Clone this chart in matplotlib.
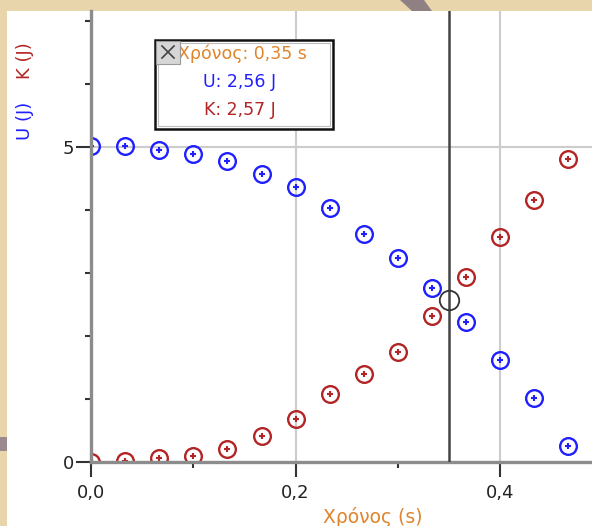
import numpy as np
import matplotlib.pyplot as plt
from matplotlib.patches import Rectangle, Polygon
from matplotlib.lines import Line2D

plt.rcParams['font.family'] = ['DejaVu Sans']
plt.rcParams['figure.dpi'] = 100
plt.rcParams['savefig.dpi'] = 100

# Μετρήσεις: χρόνος (s), δυναμική U (J), κινητική K (J)
time_s = [0.0, 1/30, 2/30, 3/30, 4/30, 5/30, 6/30, 7/30,
          8/30, 9/30, 10/30, 11/30, 12/30, 13/30, 14/30]
energy_u = [5.02, 5.02, 4.95, 4.89, 4.78, 4.57, 4.37, 4.03,
            3.62, 3.24, 2.76, 2.22, 1.62, 1.02, 0.25]
energy_k = [0.00, 0.02, 0.06, 0.10, 0.21, 0.41, 0.68, 1.08,
            1.40, 1.75, 2.32, 2.94, 3.57, 4.16, 4.81]

x_ticks = [0.0, 0.2, 0.4]
x_tick_labels = ['0,0', '0,2', '0,4']
x_minor = [0.1, 0.3]
y_ticks = [0, 5]
y_tick_labels = ['0', '5']
y_minor = [1, 2, 3, 4, 6, 7]

cursor_t = 0.35
cursor_u = 2.56
cursor_k = 2.57

BLUE = '#1f1fff'
RED = '#b32424'
ORANGE = '#e0842c'
W, H = 592, 526


def px(x, y):
    """pixel -> figure fraction (origin top-left)"""
    return x / W, 1 - y / H


def plot_energy():
    fig = plt.figure(figsize=(W / 100, H / 100), facecolor='#e9d5ab')

    # white panel on the parchment
    x0, y0 = px(7, 526)
    fig.patches.append(Rectangle((x0, y0), 1 - x0, (526 - 11) / H,
                                 transform=fig.transFigure, fc='white', ec='none', zorder=-2))
    fig.patches.append(Polygon([px(400, 0), px(424, 0), px(432, 11), px(412, 11)],
                               closed=True, transform=fig.transFigure,
                               fc='#8f8083', ec='none', zorder=-2))
    fig.patches.append(Rectangle(px(0, 451), 7 / W, 14 / H, transform=fig.transFigure,
                                 fc='#9a8a90', ec='none', zorder=-2))

    left, right, top, bottom = 91, 592, 11, 462
    ax = fig.add_axes([left / W, (H - bottom) / H, (right - left) / W, (bottom - top) / H])
    ax.set_zorder(1)
    ax.set_facecolor('none')
    ax.set_xlim(0, (right - left) / 1023)
    ax.set_ylim(0, (bottom - top) / 63)

    ax.set_xticks(x_ticks)
    ax.set_xticklabels(x_tick_labels)
    ax.set_xticks(x_minor, minor=True)
    ax.set_yticks(y_ticks)
    ax.set_yticklabels(y_tick_labels)
    ax.set_yticks(y_minor, minor=True)
    ax.tick_params(which='major', length=10.5, width=1.5, color='#333333',
                   labelsize=13, labelcolor='#222222')
    ax.tick_params(axis='x', which='major', pad=5)
    ax.tick_params(axis='y', which='major', pad=2)
    ax.tick_params(which='minor', length=4.3, width=1.5, color='#333333')

    for side in ['top', 'right']:
        ax.spines[side].set_visible(False)
    for side in ['left', 'bottom']:
        ax.spines[side].set_linewidth(2.4)
        ax.spines[side].set_color('#8c8c8c')

    ax.set_axisbelow(True)
    ax.grid(True, which='major', color='#cccccc', linewidth=1.5)

    # energy series: open circles with a small cross in the middle
    for vals, col in [(energy_u, BLUE), (energy_k, RED)]:
        ax.plot(time_s, vals, 'o', ms=12, mfc='none', mec=col, mew=1.7)
        ax.plot(time_s, vals, '+', ms=4.5, mec=col, mew=1.5)

    # time cursor
    ax.axvline(cursor_t, color='#444444', linewidth=1.8, zorder=3)
    ax.plot([cursor_t], [(cursor_u + cursor_k) / 2], 'o', ms=14, mfc='none',
            mec='#333333', mew=1.3, zorder=4)

    # axis titles
    fig.text(*px(25, 121), 'U (J)', color=BLUE, rotation=90, fontsize=13,
             ha='center', va='center')
    fig.text(*px(25, 61), 'K (J)', color=RED, rotation=90, fontsize=13,
             ha='center', va='center')
    fig.text(*px(373, 517), 'Χρόνος (s)', color=ORANGE, fontsize=13.5,
             ha='center', va='center')

    # readout box
    bx0, by0 = px(155, 129)
    fig.patches.append(Rectangle((bx0, by0), 178 / W, 89 / H, transform=fig.transFigure,
                                 fc='white', ec='#111111', lw=1.8, zorder=5))
    ix0, iy0 = px(158, 126)
    fig.patches.append(Rectangle((ix0, iy0), 172 / W, 83 / H, transform=fig.transFigure,
                                 fc='none', ec='#bdbdbd', lw=0.8, zorder=5))
    fig.text(*px(307, 54), 'Χρόνος: 0,35 s', color=ORANGE, fontsize=12.5,
             ha='right', va='center', zorder=6)
    fig.text(*px(240, 82), f'U: {cursor_u:.2f} J'.replace('.', ','), color=BLUE,
             fontsize=12.5, ha='center', va='center', zorder=6)
    fig.text(*px(240, 110), f'K: {cursor_k:.2f} J'.replace('.', ','), color=RED,
             fontsize=12.5, ha='center', va='center', zorder=6)

    # close button
    cx0, cy0 = px(156, 64)
    fig.patches.append(Rectangle((cx0, cy0), 24 / W, 23 / H, transform=fig.transFigure,
                                 fc='#d6d6d6', ec='#9a9a9a', lw=0.8, zorder=7))
    for (xa, ya), (xb, yb) in [((162, 46), (174, 58)), ((162, 58), (174, 46))]:
        fig.lines.append(Line2D([xa / W, xb / W], [1 - ya / H, 1 - yb / H],
                                transform=fig.transFigure, color='#444444', lw=1.2, zorder=8))

    fig.savefig('out.png', dpi=100, facecolor=fig.get_facecolor())


if __name__ == '__main__':
    plot_energy()
